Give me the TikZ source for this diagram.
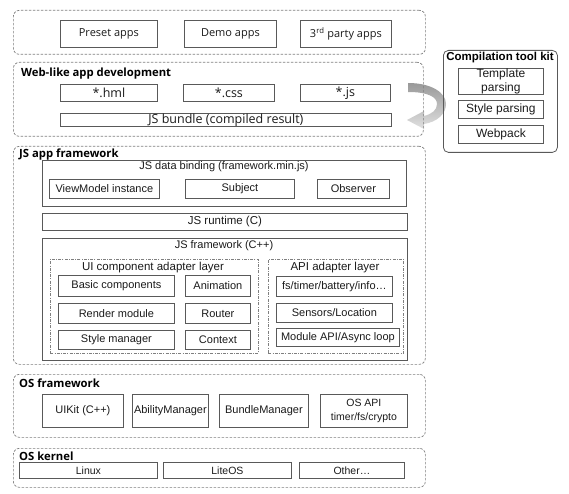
\documentclass[tikz,border=0pt]{standalone}
\usepackage{fontspec}
\setmainfont{Liberation Sans}
\newfontfamily\segoe{Open Sans}
\definecolor{boxc}{HTML}{595959}
\definecolor{dashc}{HTML}{7F7F7F}
\definecolor{txt}{HTML}{1A1A1A}
\newcommand\rbox[7][]{\pgfmathsetmacro\rbW{#5-#3}\pgfmathsetmacro\rbH{#6-#4}%
  \node[box,#1,minimum width=\rbW pt,minimum height=\rbH pt,anchor=north west] (#2) at (#3,#4) {#7};}
\begin{document}
\begin{tikzpicture}[x=1pt,y=-1pt,
  box/.style={draw=boxc,line width=0.8pt,inner sep=0pt,text=txt,align=center,font=\fontsize{11}{13}\selectfont},
  sbox/.style={box,font=\segoe\fontsize{11}{13}\selectfont},
  frame/.style={draw=dashc,line width=0.7pt,dash pattern=on 2.5pt off 1.5pt,rounded corners=6pt},
  subframe/.style={draw=dashc,line width=0.7pt,dash pattern=on 3pt off 1.2pt on 1pt off 1.2pt},
  ttl/.style={anchor=base west,inner sep=0pt,text=black,font=\segoe\bfseries\fontsize{11.3}{13}\selectfont},
  lbl/.style={inner sep=0pt,text=txt,font=\fontsize{11}{13}\selectfont}]
\useasboundingbox (0,0) rectangle (569,494);
% curved arrow (behind frames)
\shade[top color=black!40,bottom color=black!12]
  (408,83) .. controls (432,83) and (446,93) .. (446,104)
  .. controls (446,114) and (437,122) .. (424,124) -- (424,129) -- (407,120) -- (424,111) -- (424,116)
  .. controls (432,114) and (437,110) .. (437,104)
  .. controls (437,97) and (428,92) .. (408,92) -- cycle;
% apps
\rbox[frame]{apps}{13}{10}{425}{54}{}
\rbox[sbox]{preset}{60}{20}{157}{47}{Preset apps}
\rbox[sbox]{demo}{184}{20}{276}{47}{Demo apps}
\rbox[sbox]{third}{300}{20}{391}{47}{3\textsuperscript{rd} party apps}
% web-like
\rbox[frame]{web}{13}{62}{423}{136}{}
\node[ttl] (webt) at (21,77) {Web-like app development};
\rbox[sbox,font=\segoe\fontsize{12.5}{14}\selectfont]{hml}{60}{84}{157}{101}{*.hml}
\rbox[sbox,font=\segoe\fontsize{12.5}{14}\selectfont]{css}{183}{84}{274}{101}{*.css}
\rbox[sbox,font=\segoe\fontsize{12.5}{14}\selectfont]{jsf}{300}{84}{390}{101}{*.js}
\rbox[sbox,font=\segoe\fontsize{12.5}{14}\selectfont]{bundle}{60}{113}{391}{126}{JS bundle (compiled result)}
% compilation tool kit
\rbox[rounded corners=5pt]{kit}{443}{50}{557}{152}{}
\node[anchor=base,inner sep=0pt,text=black,font=\bfseries\fontsize{11.5}{13}\selectfont] (kitt) at (500,61) {Compilation tool kit};
\rbox[font=\fontsize{12}{14.5}\selectfont]{tmpl}{458}{68}{543}{93}{Template\\parsing}
\rbox[font=\fontsize{12}{13.5}\selectfont]{stylep}{458}{100}{543}{118}{Style parsing}
\rbox[font=\fontsize{12}{13.5}\selectfont]{webpack}{458}{125}{543}{143}{Webpack}
% JS app framework
\rbox[frame]{jsapp}{13}{146}{425}{364}{}
\rbox{bind}{42}{160}{406}{206}{}
\node[lbl] (bindt) at (224,167) {JS data binding (framework.min.js)};
\rbox{vm}{49}{179}{159}{198}{ViewModel instance}
\rbox{subj}{185}{179}{294}{198}{Subject}
\rbox{obs}{317}{179}{389}{198}{Observer}
\node[ttl] (jsappt) at (19,158) {JS app framework};
\rbox[font=\fontsize{11.5}{13}\selectfont]{runtime}{42}{213}{407}{230}{JS runtime (C)}
\rbox{jsfw}{42}{238}{407}{360}{}
\node[lbl] (jsfwt) at (224,246) {JS framework (C++)};
\rbox[subframe]{ui}{50}{259}{258}{353}{}
\node[lbl,font=\fontsize{11.5}{13}\selectfont] (uit) at (153,268) {UI component adapter layer};
\rbox{basic}{58}{275}{174}{296}{Basic components}
\rbox{anim}{185}{275}{250}{296}{Animation}
\rbox{render}{58}{303}{174}{323}{Render module}
\rbox{router}{185}{303}{250}{323}{Router}
\rbox{stylem}{58}{330}{174}{349}{Style manager}
\rbox{ctx}{185}{330}{250}{349}{Context}
\rbox[subframe]{api}{268}{259}{403}{353}{}
\node[lbl,font=\fontsize{11.5}{13}\selectfont] (apit) at (335,268) {API adapter layer};
\rbox{fs}{276}{276}{392}{296}{fs/timer/battery/info…}
\rbox{sensors}{276}{303}{392}{322}{Sensors/Location}
\rbox{modapi}{276}{328}{399}{346}{Module API/Async loop}
% OS framework
\rbox[frame]{osfw}{13}{374}{425}{437}{}
\node[ttl] (osfwt) at (19,387) {OS framework};
\rbox{uikit}{42}{394}{123}{427}{UIKit (C++)}
\rbox{ability}{132}{394}{208}{427}{AbilityManager}
\rbox{bundlem}{219}{394}{308}{427}{BundleManager}
\rbox[font=\fontsize{10.5}{14}\selectfont]{osapi}{320}{394}{407}{427}{OS API\\timer/fs/crypto}
% OS kernel
\rbox[frame]{kernel}{13}{448}{425}{487}{}
\node[ttl] (kernelt) at (19,460) {OS kernel};
\rbox[font=\fontsize{10.5}{12}\selectfont]{linux}{19}{462}{157}{478}{Linux}
\rbox[font=\fontsize{10.5}{12}\selectfont]{liteos}{163}{462}{291}{478}{LiteOS}
\rbox[font=\fontsize{10.5}{12}\selectfont]{other}{299}{462}{404}{478}{Other…}
\end{tikzpicture}
\end{document}
